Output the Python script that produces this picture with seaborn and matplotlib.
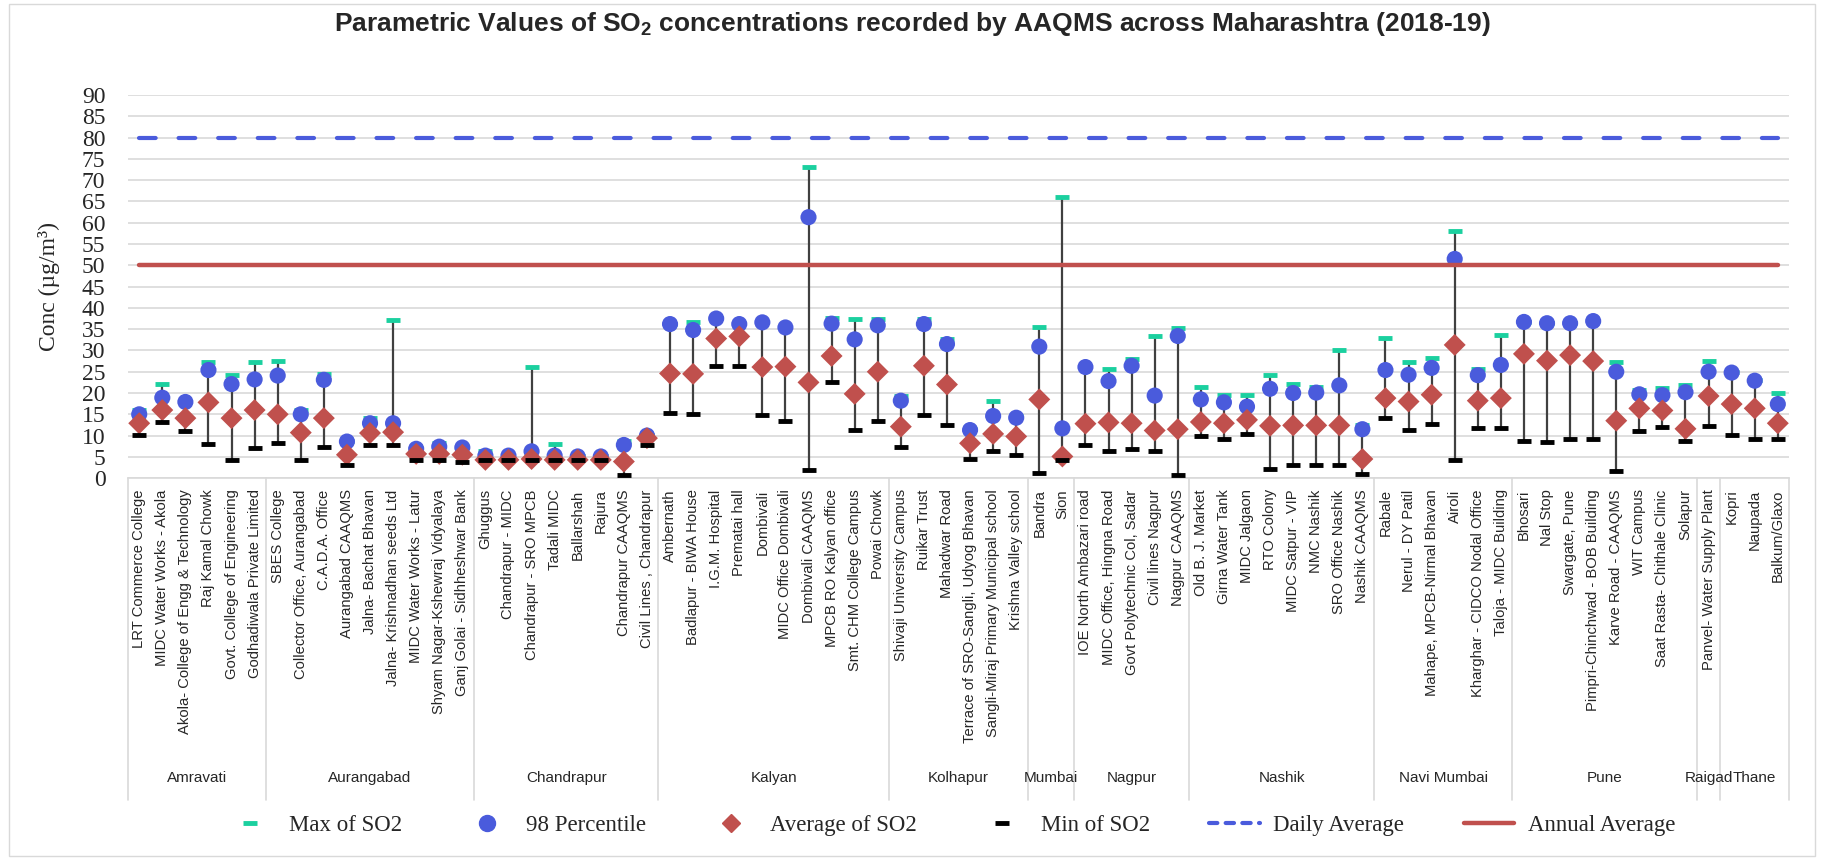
import numpy as np
import pandas as pd
import matplotlib
matplotlib.use("Agg")
import matplotlib.pyplot as plt
from matplotlib.lines import Line2D
import seaborn as sns

# regions and stations (in plotting order)
regions = ["Amravati", "Aurangabad", "Chandrapur", "Kalyan", "Kolhapur", "Mumbai",
           "Nagpur", "Nashik", "Navi Mumbai", "Pune", "Raigad", "Thane"]
region_sizes = [6, 9, 8, 10, 6, 2, 5, 8, 6, 8, 1, 3]

stations = [
    "LRT Commerce College", "MIDC Water Works - Akola", "Akola- College of Engg & Technology",
    "Raj Kamal Chowk", "Govt. College of Engineering", "Godhadiwala Private Limited",
    "SBES College", "Collector Office, Aurangabad", "C.A.D.A. Office", "Aurangabad CAAQMS",
    "Jalna- Bachat Bhavan", "Jalna- Krishnadhan seeds Ltd", "MIDC Water Works - Latur",
    "Shyam Nagar-Kshewraj Vidyalaya", "Ganj Golai - Sidhheshwar Bank",
    "Ghuggus", "Chandrapur - MIDC", "Chandrapur - SRO MPCB", "Tadali MIDC", "Ballarshah",
    "Rajura", "Chandrapur CAAQMS", "Civil Lines , Chandrapur",
    "Ambernath", "Badlapur - BIWA House", "I.G.M. Hospital", "Prematai hall", "Dombivali",
    "MIDC Office Dombivali", "Dombivali CAAQMS", "MPCB RO Kalyan office",
    "Smt. CHM College Campus", "Powai Chowk",
    "Shivaji University Campus", "Ruikar Trust", "Mahadwar Road",
    "Terrace of SRO-Sangli, Udyog Bhavan", "Sangli-Miraj Primary Municipal school",
    "Krishna Valley school",
    "Bandra", "Sion",
    "IOE North Ambazari road", "MIDC Office, Hingna Road", "Govt Polytechnic Col, Sadar",
    "Civil lines Nagpur", "Nagpur CAAQMS",
    "Old B. J. Market", "Girna Water Tank", "MIDC Jalgaon", "RTO Colony", "MIDC Satpur - VIP",
    "NMC Nashik", "SRO Office Nashik", "Nashik CAAQMS",
    "Rabale", "Nerul - DY Patil", "Mahape, MPCB-Nirmal Bhavan", "Airoli",
    "Kharghar - CIDCO Nodal Office", "Taloja - MIDC Building",
    "Bhosari", "Nal Stop", "Swargate, Pune", "Pimpri-Chinchwad - BOB Building",
    "Karve Road - CAAQMS", "WIT Campus", "Saat Rasta- Chithale Clinic", "Solapur",
    "Panvel- Water Supply Plant",
    "Kopri", "Naupada", "Balkum/Glaxo",
]

so2_max = [16.0, 22.1, 18.0, 27.2, 24.2, 27.2, 27.5, 16.0, 24.5, 8.7, 14.1, 37.1, 7.0, 8.2, 7.5,
           6.3, 5.4, 26.1, 8.1, 5.2, 5.2, 8.8, 10.2, 36.3, 36.8, 37.6, 36.5, 36.8, 35.6, 73.2,
           37.6, 37.4, 37.3, 19.4, 37.3, 32.8, 11.5, 18.2, 14.5, 35.5, 66.0, 26.4, 25.7, 27.9,
           33.3, 35.3, 21.4, 19.6, 19.6, 24.2, 22.1, 21.4, 30.2, 12.5, 32.9, 27.3, 28.2, 58.1,
           25.6, 33.6, 36.8, 36.5, 36.5, 37.0, 27.2, 20.6, 21.2, 21.9, 27.5, 25.0, 23.0, 20.1]
so2_p98 = [15.0, 18.9, 17.9, 25.4, 22.1, 23.2, 24.1, 15.0, 23.1, 8.6, 12.9, 12.9, 6.9, 7.4, 7.2,
           5.3, 5.3, 6.3, 5.3, 5.1, 5.1, 7.8, 10.0, 36.2, 34.8, 37.5, 36.2, 36.6, 35.4, 61.3,
           36.3, 32.6, 35.9, 18.2, 36.2, 31.5, 11.3, 14.6, 14.2, 30.9, 11.7, 26.1, 22.8, 26.4,
           19.4, 33.4, 18.5, 17.8, 16.8, 21.0, 20.0, 20.1, 21.8, 11.5, 25.4, 24.3, 25.9, 51.5,
           24.2, 26.6, 36.7, 36.4, 36.4, 36.9, 25.0, 19.7, 19.5, 20.2, 25.0, 24.8, 22.9, 17.4]
so2_avg = [12.9, 16.0, 14.1, 17.8, 14.1, 16.0, 15.0, 10.7, 14.1, 5.5, 10.6, 10.8, 5.7, 5.7, 5.5,
           4.3, 4.3, 4.5, 4.3, 4.3, 4.3, 3.9, 9.4, 24.6, 24.5, 32.8, 33.3, 26.1, 26.2, 22.5,
           28.7, 19.8, 25.0, 12.1, 26.4, 22.0, 8.2, 10.4, 9.8, 18.5, 5.1, 12.8, 13.1, 12.9,
           11.2, 11.5, 13.2, 12.9, 13.7, 12.3, 12.4, 12.4, 12.4, 4.5, 18.8, 18.0, 19.6, 31.3,
           18.2, 18.8, 29.2, 27.6, 28.9, 27.5, 13.5, 16.4, 15.9, 11.6, 19.3, 17.4, 16.4, 12.9]
so2_min = [10.2, 13.1, 11.1, 8.1, 4.2, 7.1, 8.2, 4.3, 7.4, 3.1, 7.7, 7.7, 4.3, 4.3, 3.8,
           4.3, 4.3, 4.3, 4.3, 4.3, 4.3, 0.7, 7.8, 15.3, 15.0, 26.3, 26.4, 14.9, 13.5, 1.8,
           22.5, 11.3, 13.5, 7.4, 14.8, 12.5, 4.5, 6.3, 5.5, 1.2, 4.3, 7.7, 6.4, 6.9, 6.3,
           0.7, 9.9, 9.2, 10.3, 2.1, 3.1, 3.1, 3.1, 1.0, 14.1, 11.3, 12.8, 4.2, 11.7, 11.8,
           8.8, 8.4, 9.3, 9.2, 1.6, 11.1, 12.1, 8.7, 12.3, 10.2, 9.2, 9.2]

daily_limit = 80
annual_limit = 50

df = pd.DataFrame({"station": stations, "max": so2_max, "p98": so2_p98,
                   "avg": so2_avg, "min": so2_min})
df["pos"] = np.arange(len(df))

c_max = "#1bd09f"
c_p98 = "#4a5bdc"
c_avg = "#c0504d"
serif = ["Liberation Serif", "DejaVu Serif"]
narrow = ["Liberation Sans Narrow", "Liberation Sans", "DejaVu Sans"]

sns.set_style("white")
plt.rcParams["font.family"] = narrow

fig, ax = plt.subplots(figsize=(18.24, 8.6), dpi=100)
fig.subplots_adjust(left=0.070, right=0.981, top=0.8895, bottom=0.444)

# high-low lines
ax.vlines(df["pos"], df["min"], df["max"], color="#404040", lw=1.6, zorder=2)
ax.plot(df["pos"], df["max"], ls="none", marker="_", ms=10, mew=3.5, color=c_max, zorder=3)
sns.scatterplot(data=df, x="pos", y="p98", ax=ax, color=c_p98, s=135, marker="o",
                edgecolor="none", zorder=4, legend=False)
sns.scatterplot(data=df, x="pos", y="avg", ax=ax, color=c_avg, s=125, marker="D",
                edgecolor="none", zorder=5, legend=False)
ax.plot(df["pos"], df["min"], ls="none", marker="_", ms=10, mew=3.5, color="black", zorder=6)

n = len(df)
ax.plot([0, n - 1], [daily_limit] * 2, color=c_p98, lw=3, dashes=(4, 5.5),
        dash_capstyle="round", solid_capstyle="round", zorder=7)
ax.plot([0, n - 1], [annual_limit] * 2, color=c_avg, lw=3.2, solid_capstyle="round", zorder=8)

ax.set_xlim(-0.5, n - 0.5)
ax.set_ylim(0, 90)
ax.set_yticks(range(0, 91, 5))
ax.yaxis.grid(True, color="#d9d9d9", lw=1.2)
ax.set_axisbelow(True)
for s in ["left", "top", "right"]:
    ax.spines[s].set_visible(False)
ax.spines["bottom"].set_color("#d9d9d9")
ax.spines["bottom"].set_linewidth(1.2)
ax.tick_params(axis="y", length=0, pad=16)
for lab in ax.get_yticklabels():
    lab.set_fontfamily(serif)
    lab.set_fontsize(17)
ax.set_ylabel("Conc (µg/m³)", fontsize=17, family=serif, labelpad=16)
ax.set_xlabel("")

ax.set_xticks(df["pos"])
ax.set_xticklabels(df["station"], rotation=90, fontsize=10.6, va="top", ha="center")
ax.tick_params(axis="x", length=0, pad=8)

# region boxes and names below the station labels
box_bottom = -0.84
edges = np.concatenate([[0], np.cumsum(region_sizes)]) - 0.5
for e in edges:
    ax.plot([e, e], [0, box_bottom], transform=ax.get_xaxis_transform(), color="#d9d9d9",
            lw=1.2, clip_on=False)
for name, a, b in zip(regions, edges[:-1], edges[1:]):
    ax.text((a + b) / 2, -0.783, name, transform=ax.get_xaxis_transform(), ha="center",
            va="center", fontsize=11)

fig.suptitle("Parametric Values of SO$_\\mathregular{2}$ concentrations recorded by AAQMS "
             "across Maharashtra (2018-19)", fontsize=19, fontweight="bold", y=0.988)

handles = [
    Line2D([], [], ls="none", marker="_", ms=10, mew=3.5, color=c_max),
    Line2D([], [], ls="none", marker="o", ms=11.5, color=c_p98),
    Line2D([], [], ls="none", marker="D", ms=9, color=c_avg),
    Line2D([], [], ls="none", marker="_", ms=10, mew=3.5, color="black"),
    Line2D([], [], color=c_p98, lw=3, dashes=(2, 2), dash_capstyle="round"),
    Line2D([], [], color=c_avg, lw=3.2),
]
labels = ["Max of SO2", "98 Percentile", "Average of SO2", "Min of SO2",
          "Daily Average", "Annual Average"]
fig.legend(handles, labels, loc="center", bbox_to_anchor=(0.521, 0.04), ncol=6,
           frameon=False, prop={"family": serif, "size": 16.5}, columnspacing=2.6,
           handlelength=2.2, handletextpad=0.6)

fig.patches.append(plt.Rectangle((0.005, 0.005), 0.99, 0.99, transform=fig.transFigure,
                                 fill=False, edgecolor="#d9d9d9", lw=1))

fig.savefig("out.png", dpi=100)
